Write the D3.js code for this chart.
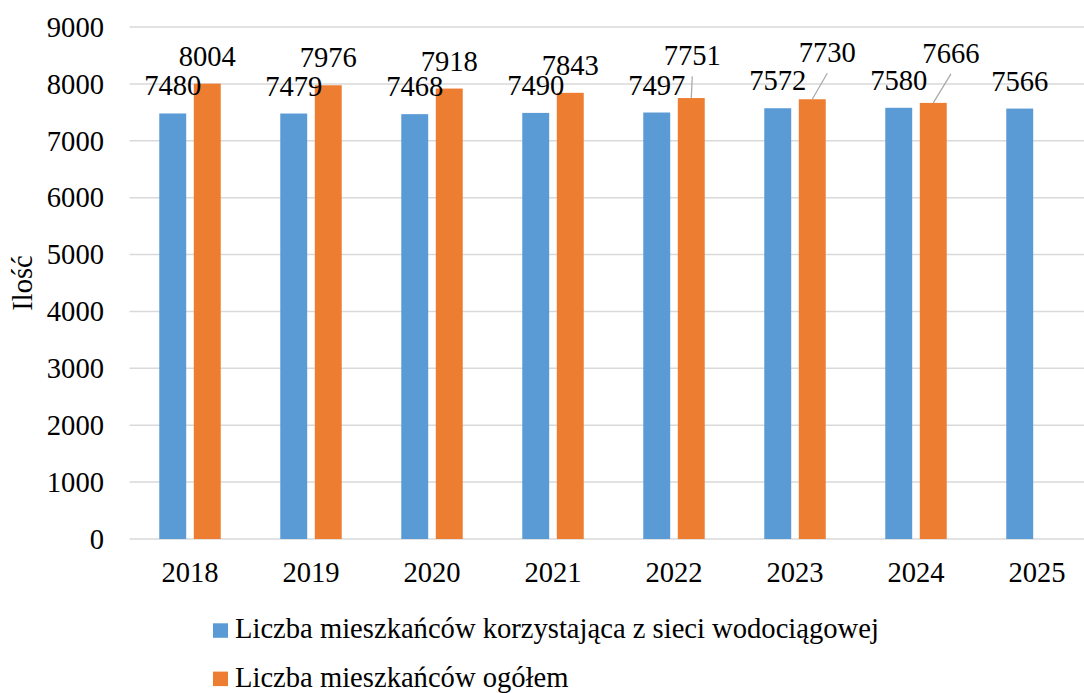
<!DOCTYPE html>
<html>
<head>
<meta charset="utf-8">
<script src="https://cdn.jsdelivr.net/npm/d3@7"></script>
<style>
  body { margin: 0; background: #fff; }
  svg text { font-family: "Liberation Serif", serif !important; }
</style>
</head>
<body>
<div id="chart"></div>
<script>
// data
const years = ["2018", "2019", "2020", "2021", "2022", "2023", "2024", "2025"];
const waterUsers = [7480, 7479, 7468, 7490, 7497, 7572, 7580, 7566];
const totalResidents = [8004, 7976, 7918, 7843, 7751, 7730, 7666, null];
const seriesNames = [
    "Liczba mieszkańców korzystająca z sieci wodociągowej",
    "Liczba mieszkańców ogółem"
];
const yTicks = [0, 1000, 2000, 3000, 4000, 5000, 6000, 7000, 8000, 9000];
const yTitle = "Ilość";

// layout
const W = 1084, H = 693;
const plot = {left: 129.5, right: 1097.5, top: 27, bottom: 539};
const fontSize = "28.6px";
const colors = ["#5b9bd5", "#ed7d31"];

// labels that were dragged away from the bar (orange series), with leader lines
const labelNudge = {
    "2022": {dx: 1, dy: -14.7},
    "2023": {dx: 15, dy: -19},
    "2024": {dx: 17.7, dy: -22}
};

const rows = years.map((yr, i) => ({
    year: yr,
    values: [waterUsers[i], totalResidents[i]]
}));

const svg = d3.select("#chart").append("svg")
    .attr("width", W)
    .attr("height", H);

// every text: same face and size
function addText(parent) {
    return parent.append("text")
        .attr("font-family", "Liberation Serif")
        .attr("font-size", fontSize)
        .style("font-family", '"Liberation Serif"')
        .style("font-size", fontSize);
}

const x = d3.scaleBand()
    .domain(years)
    .range([plot.left, plot.right])
    .padding(0);

const x1 = d3.scaleBand()
    .domain([0, 1])
    .range([x.bandwidth() * 0.246, x.bandwidth() * 0.754])
    .paddingInner(0.22);

const y = d3.scaleLinear()
    .domain([0, 9000])
    .range([plot.bottom, plot.top]);

// gridlines
svg.append("g")
    .selectAll("line")
    .data(yTicks)
    .join("line")
    .attr("x1", plot.left)
    .attr("x2", plot.right)
    .attr("y1", d => y(d))
    .attr("y2", d => y(d))
    .attr("stroke", "#d9d9d9")
    .attr("stroke-width", 1.5);

// y tick labels
const gy = svg.append("g");
yTicks.forEach(t => {
    addText(gy)
        .attr("x", 104)
        .attr("y", y(t))
        .attr("dy", "0.34em")
        .attr("text-anchor", "end")
        .text(t);
});

// x labels
const gx = svg.append("g");
years.forEach(yr => {
    addText(gx)
        .attr("x", x(yr) + x.bandwidth() / 2)
        .attr("y", plot.bottom + 42.7)
        .attr("text-anchor", "middle")
        .text(yr);
});

// y title
addText(svg)
    .attr("transform", `translate(31.5,${(plot.top + plot.bottom) / 2}) rotate(-90)`)
    .attr("text-anchor", "middle")
    .text(yTitle);

// bars and data labels
const gb = svg.append("g");
const gl = svg.append("g");
rows.forEach(row => {
    const x0 = x(row.year);
    row.values.forEach((v, s) => {
        if (v === null) return;
        const cx = x0 + x1(s) + x1.bandwidth() / 2;
        gb.append("rect")
            .attr("x", x0 + x1(s))
            .attr("width", x1.bandwidth())
            .attr("y", y(v))
            .attr("height", y(0) - y(v))
            .attr("fill", colors[s]);

        const n = s === 1 ? labelNudge[row.year] : null;
        const lx = cx + (n ? n.dx : 0);
        const ly = y(v) - 18 + (n ? n.dy : 0);
        if (n) {
            gl.append("line")
                .attr("x1", cx)
                .attr("y1", y(v))
                .attr("x2", lx)
                .attr("y2", ly + 11)
                .attr("stroke", "#a6a6a6")
                .attr("stroke-width", 1.2);
        }
        addText(gl)
            .attr("x", lx)
            .attr("y", ly)
            .attr("text-anchor", "middle")
            .text(v);
    });
});

// legend
seriesNames.forEach((name, i) => {
    const g = svg.append("g")
        .attr("transform", `translate(213,${638.3 + i * 48.3})`);
    g.append("rect")
        .attr("x", 0)
        .attr("y", -15)
        .attr("width", 15)
        .attr("height", 14.5)
        .attr("fill", colors[i]);
    addText(g)
        .attr("x", 22)
        .attr("y", 0)
        .text(name);
});
</script>
</body>
</html>
